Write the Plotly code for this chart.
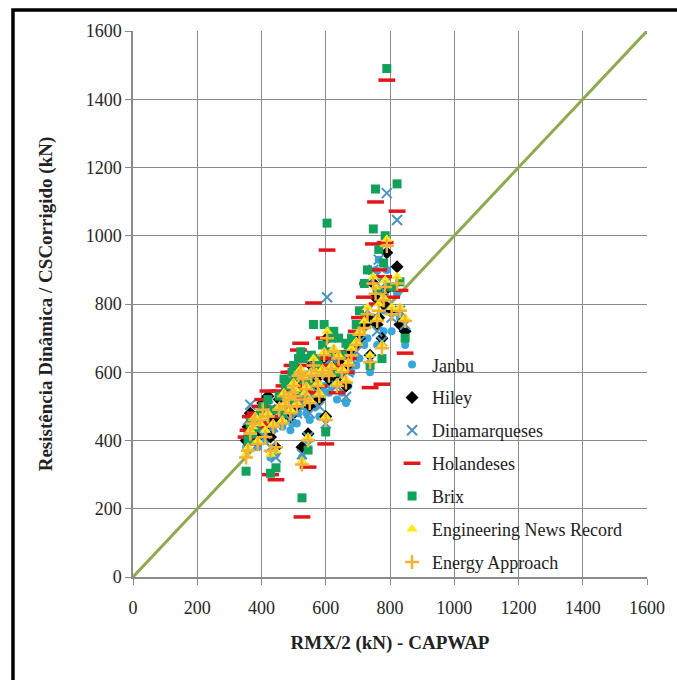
import plotly.graph_objects as go

# RMX/2 CAPWAP per pile (kN)
rmx = [352, 358, 365, 372, 380, 388, 396, 404, 412, 420, 428, 436, 445, 455, 465, 475,
       485, 495, 505, 515, 522, 526, 535, 545, 555, 562, 575, 590, 600, 604, 618, 635,
       650, 663, 680, 705, 720, 738, 748, 755, 765, 775, 785, 790, 805, 822, 831, 847,
       470, 490, 500, 510, 530, 540, 550, 570, 580, 595, 610, 625, 640, 670, 695, 730,
       760, 780]

janbu = [380, 420, 400, 440, 410, 380, 450, 430, 400, 470, 350, 430, 360, 460, 440, 480,
         500, 450, 520, 480, 540, 350, 500, 400, 530, 560, 510, 540, 430, 620, 560, 520,
         540, 510, 600, 640, 680, 600, 760, 900, 930, 640, 780, 900, 720, 830, 760, 680,
         470, 430, 490, 450, 520, 480, 460, 500, 470, 560, 540, 600, 580, 560, 620, 700,
         680, 720]
hiley = [400, 440, 480, 420, 460, 410, 470, 510, 440, 530, 410, 460, 380, 520, 470, 500,
         540, 480, 560, 580, 600, 380, 530, 420, 620, 600, 560, 620, 470, 700, 600, 580,
         600, 560, 660, 700, 740, 650, 860, 820, 760, 700, 840, 950, 780, 909, 740, 720,
         520, 470, 540, 500, 560, 540, 500, 580, 520, 640, 580, 650, 630, 620, 680, 760,
         740, 800]
dinam = [420, 460, 505, 470, 450, 430, 440, 480, 420, 500, 380, 440, 350, 490, 480, 520,
         520, 470, 540, 560, 580, 360, 520, 410, 590, 620, 540, 600, 450, 820, 640, 560,
         590, 528, 640, 690, 760, 640, 900, 880, 930, 690, 860, 1125, 760, 1046, 780, 740,
         500, 460, 560, 480, 540, 520, 480, 560, 500, 620, 600, 640, 610, 600, 660, 780,
         720, 840]
holand = [410, 430, 470, 390, 480, 440, 500, 520, 450, 545, 300, 470, 285, 545, 500, 540,
          600, 620, 580, 665, 685, 176, 560, 322, 640, 803, 600, 640, 390, 958, 660, 540,
          620, 600, 680, 760, 820, 555, 976, 1099, 900, 565, 980, 1456, 820, 1072, 840, 656,
          560, 500, 600, 520, 620, 560, 540, 620, 560, 700, 620, 700, 660, 640, 720, 860,
          800, 880]
brix = [310, 400, 450, 420, 440, 460, 480, 500, 470, 520, 304, 490, 320, 530, 480, 560,
        570, 600, 590, 640, 660, 232, 580, 372, 650, 740, 620, 680, 425, 1037, 700, 600,
        650, 685, 700, 780, 860, 620, 1020, 1137, 960, 640, 1000, 1490, 850, 1152, 865, 700,
        580, 520, 620, 540, 640, 570, 560, 640, 600, 740, 660, 720, 700, 680, 740, 900,
        840, 920]
enr = [360, 380, 430, 440, 470, 400, 450, 470, 430, 480, 360, 450, 370, 500, 460, 510,
       530, 560, 550, 600, 610, 340, 540, 410, 600, 640, 570, 610, 470, 720, 620, 570,
       610, 580, 670, 720, 750, 650, 880, 850, 800, 680, 870, 990, 790, 880, 790, 760,
       540, 490, 570, 510, 590, 560, 520, 600, 540, 660, 600, 670, 650, 630, 690, 790,
       760, 820]
energy = [350, 370, 420, 450, 460, 390, 460, 490, 410, 470, 370, 440, 380, 490, 450, 500,
          520, 540, 530, 590, 600, 330, 520, 400, 590, 620, 560, 600, 460, 700, 610, 560,
          600, 570, 650, 710, 730, 630, 860, 830, 780, 670, 850, 970, 770, 860, 780, 750,
          530, 480, 560, 500, 580, 550, 510, 590, 530, 650, 590, 660, 640, 620, 680, 770,
          750, 810]

ref_x = [0, 1600]
ref_y = [0, 1600]

series = [
    ("Janbu", janbu, dict(symbol="circle", size=8, color="#35A7DC")),
    ("Hiley", hiley, dict(symbol="diamond", size=10, color="#000000")),
    ("Dinamarqueses", dinam, dict(symbol="x-thin", size=10, color="#4A94BE",
                                  line=dict(width=2, color="#4A94BE"))),
    ("Holandeses", holand, dict(symbol="line-ew", size=12, color="#E3161C",
                                line=dict(width=3.5, color="#E3161C"))),
    ("Brix", brix, dict(symbol="square", size=9, color="#12A15A")),
    ("Engineering News Record", enr, dict(symbol="triangle-up", size=10, color="#FFE81A")),
    ("Energy Approach", energy, dict(symbol="cross-thin", size=10, color="#F2B233",
                                     line=dict(width=2.5, color="#F2B233"))),
]

fig = go.Figure()
fig.add_trace(go.Scatter(x=ref_x, y=ref_y, mode="lines", showlegend=False,
                         line=dict(color="#8DAA4E", width=3), hoverinfo="skip"))
for i, (name, ys, mk) in enumerate(series):
    fig.add_trace(go.Scatter(x=rmx, y=ys, mode="markers", name=name, marker=mk,
                             legendgroup=f"g{i}"))

FONT = "Liberation Serif"
axis_common = dict(range=[0, 1600], dtick=200, tick0=0, showgrid=True,
                   gridcolor="#8A8A8A", gridwidth=1, showline=True, linecolor="#8A8A8A",
                   linewidth=1.5, ticks="outside", ticklen=6, tickcolor="#8A8A8A",
                   zeroline=False, tickfont=dict(family=FONT, size=18, color="#262626"))

fig.update_layout(
    width=677, height=680,
    margin=dict(l=133, r=30, t=31, b=103, autoexpand=False),
    paper_bgcolor="white", plot_bgcolor="white",
    font=dict(family=FONT, size=18, color="#222"),
    xaxis=dict(**axis_common, ticklabelstandoff=8,
               title=dict(text="<b>RMX/2 (kN) - CAPWAP</b>", standoff=18,
                          font=dict(family=FONT, size=19, color="#222"))),
    yaxis=dict(**axis_common,
               title=dict(text="<b>Resistência Dinâmica / CSCorrigido (kN)</b>", standoff=28,
                          font=dict(family=FONT, size=19, color="#222"))),
    legend=dict(x=0.504, y=0.4225, xanchor="left", yanchor="top",
                bgcolor="rgba(0,0,0,0)", font=dict(family=FONT, size=18, color="#222"),
                tracegroupgap=6.5, itemwidth=30),
    showlegend=True,
)

# outer frame of the figure
fig.add_shape(type="path", xref="paper", yref="paper",
              path="M -0.2335 -0.3 L -0.2335 1.0385 L 1.1 1.0385",
              line=dict(color="black", width=3.5))

fig.write_html("out.html")
